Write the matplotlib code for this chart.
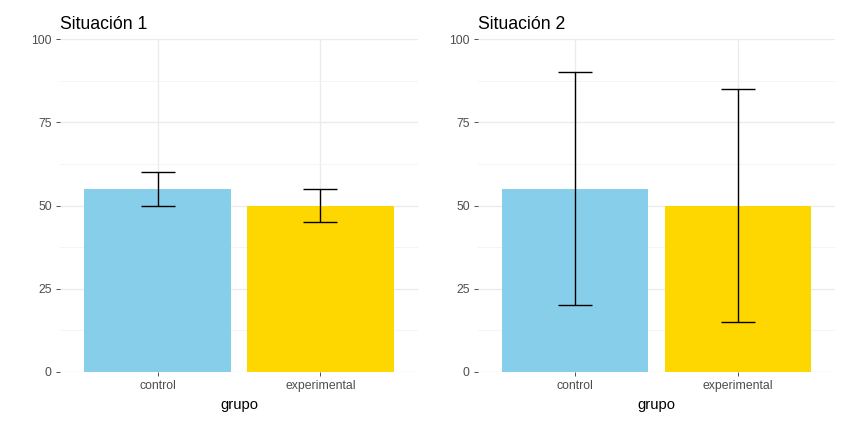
import matplotlib.pyplot as plt
import numpy as np

plt.rcParams['font.family'] = ['Liberation Sans', 'DejaVu Sans']

grupos = ['control', 'experimental']
colores = ['#87CEEB', '#FFD700']
titulos = ['Situación 1', 'Situación 2']
medias = [[55, 50], [55, 50]]
errores = [[5, 5], [35, 35]]
yticks = [0, 25, 50, 75, 100]

fig = plt.figure(figsize=(8.51, 4.24), dpi=100)
posiciones = [[60 / 851, 1 - 372 / 424, 358 / 851, 333 / 424],
              [478 / 851, 1 - 372 / 424, 357 / 851, 333 / 424]]

for i in range(2):
    ax = fig.add_axes(posiciones[i])
    x = np.arange(1, len(grupos) + 1)
    ax.bar(x, medias[i], width=0.9, color=colores, zorder=2)
    ax.errorbar(x, medias[i], yerr=errores[i], fmt='none', ecolor='black',
                elinewidth=1.0, capsize=12, capthick=1.0, zorder=3)

    ax.set_xlim(0.4, 2.6)
    ax.set_ylim(0, 100)
    ax.set_xticks(x)
    ax.set_xticklabels(grupos)
    ax.set_yticks(yticks)
    ax.set_yticks([12.5, 37.5, 62.5, 87.5], minor=True)
    ax.grid(True, which='major', color='#EBEBEB', linewidth=1.0, zorder=0)
    ax.grid(True, which='minor', axis='y', color='#F3F3F3', linewidth=0.6, zorder=0)
    ax.set_axisbelow(True)
    for s in ax.spines.values():
        s.set_visible(False)
    ax.tick_params(axis='both', which='major', length=3, width=0.6, color='#333333',
                   labelcolor='#4D4D4D', labelsize=8.8, pad=3)
    ax.tick_params(axis='both', which='minor', length=0)
    ax.set_xlabel('grupo', fontsize=10.6, color='black', labelpad=4)
    ax.set_title(titulos[i], loc='left', fontsize=12.7, color='black', pad=7)

plt.savefig('out.png', dpi=100)
plt.close()
